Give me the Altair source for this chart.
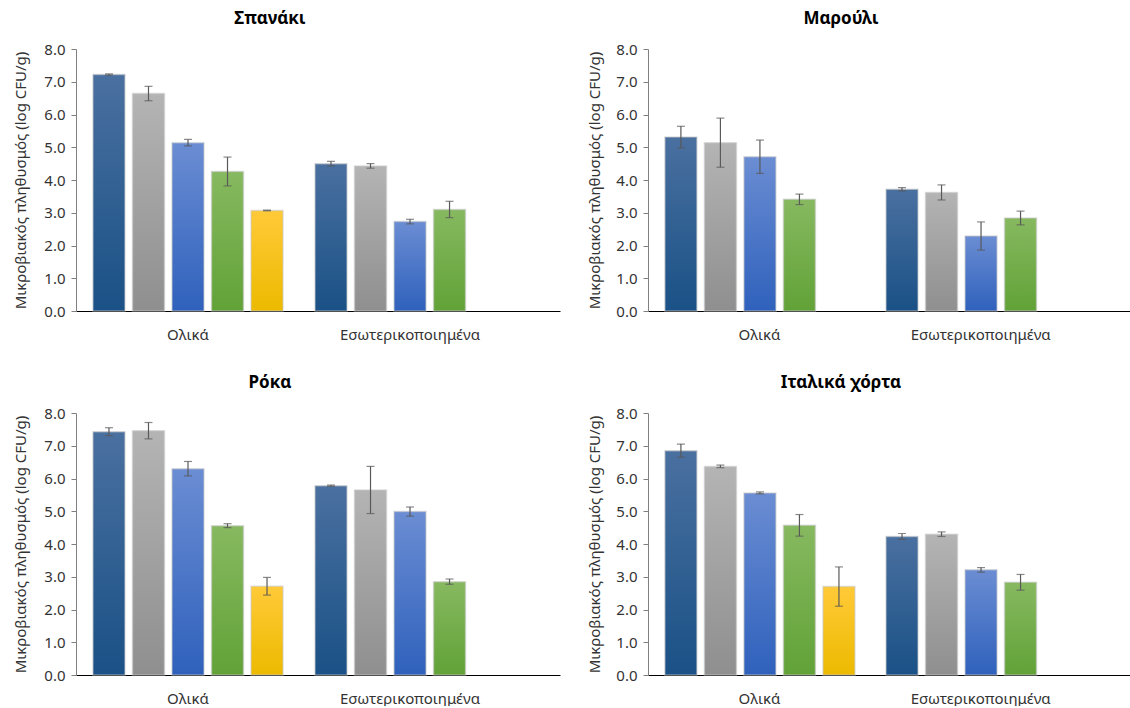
import altair as alt
import pandas as pd

# Categories
groups = ["Ολικά", "Εσωτερικοποιημένα"]
series = ["s1", "s2", "s3", "s4", "s5"]

# Panel titles
panels = ["Σπανάκι", "Μαρούλι", "Ρόκα", "Ιταλικά χόρτα"]

# Mean counts (log CFU/g) per panel: group "Ολικά" then "Εσωτερικοποιημένα"
spinach_mean = [7.22, 6.64, 5.14, 4.26, 3.07, 4.50, 4.43, 2.73, 3.10]
spinach_err = [0.02, 0.22, 0.10, 0.44, 0.01, 0.07, 0.07, 0.07, 0.25]

lettuce_mean = [5.31, 5.14, 4.71, 3.41, 3.72, 3.62, 2.29, 2.84]
lettuce_err = [0.33, 0.75, 0.51, 0.16, 0.05, 0.23, 0.43, 0.21]

rocket_mean = [7.43, 7.46, 6.30, 4.56, 2.71, 5.78, 5.65, 4.99, 2.85]
rocket_err = [0.12, 0.25, 0.22, 0.06, 0.27, 0.02, 0.72, 0.14, 0.08]

italian_mean = [6.85, 6.37, 5.56, 4.57, 2.70, 4.23, 4.30, 3.21, 2.83]
italian_err = [0.20, 0.04, 0.03, 0.33, 0.60, 0.09, 0.07, 0.07, 0.24]

# Which series are present in each group, per panel
slots_5_4 = [("Ολικά", s) for s in series] + [("Εσωτερικοποιημένα", s) for s in series[:4]]
slots_4_4 = [("Ολικά", s) for s in series[:4]] + [("Εσωτερικοποιημένα", s) for s in series[:4]]

panel_data = {
    "Σπανάκι": (slots_5_4, spinach_mean, spinach_err),
    "Μαρούλι": (slots_4_4, lettuce_mean, lettuce_err),
    "Ρόκα": (slots_5_4, rocket_mean, rocket_err),
    "Ιταλικά χόρτα": (slots_5_4, italian_mean, italian_err),
}

rows = []
for p, (slots, means, errs) in panel_data.items():
    for (g, s), m, e in zip(slots, means, errs):
        rows.append({"panel": p, "group": g, "series": s, "mean": m,
                     "lo": round(m - e, 3), "hi": round(m + e, 3)})
df = pd.DataFrame(rows)

# Vertical gradient per series (light top -> dark bottom)
gradients = {
    "s1": ("#4a70a0", "#1a5186"),
    "s2": ("#b4b4b4", "#8f8f8f"),
    "s3": ("#6b8dd3", "#2f61bc"),
    "s4": ("#87b960", "#61a237"),
    "s5": ("#ffca38", "#ecba00"),
}

FONT = "Noto Sans"
PLOT_H = 262

x_axis = alt.Axis(title=None, ticks=False, labelAngle=0, labelPadding=16,
                  labelFontSize=15, labelColor="#333333", labelFont=FONT,
                  domainColor="#000000", domainWidth=1.2)
x_scale = alt.Scale(domain=groups, paddingInner=0.144, paddingOuter=0.162, align=0.236)
y_scale = alt.Scale(domain=[0, 8], nice=False)


def y_axis(title_pad):
    return alt.Axis(title="Μικροβιακός πληθυσμός (log CFU/g)", values=list(range(9)),
                    format=".1f", grid=False, tickSize=5, tickColor="#808080",
                    domainColor="#808080", labelPadding=6, labelFontSize=15,
                    labelColor="#333333", labelFont=FONT, labelOverlap=False,
                    titleFont=FONT, titleFontSize=15, titleFontWeight="normal",
                    titleColor="#333333", titlePadding=title_pad)


def panel(name, width, title_pad):
    base = alt.Chart(df).transform_filter(alt.datum.panel == name)
    x = alt.X("group:N", sort=groups, scale=x_scale, axis=x_axis)
    xo = alt.XOffset("series:N", sort=series,
                     scale=alt.Scale(domain=series, paddingInner=0.19, paddingOuter=0))
    ax = y_axis(title_pad)

    def y(field):
        return alt.Y(f"{field}:Q", scale=y_scale, axis=ax)

    layers = []
    for s in series:
        top, bottom = gradients[s]
        grad = alt.Gradient(
            gradient="linear", x1=0, y1=0, x2=0, y2=1,
            stops=[alt.GradientStop(offset=0, color=top),
                   alt.GradientStop(offset=1, color=bottom)],
        )
        layers.append(
            base.transform_filter(alt.datum.series == s)
            .mark_bar(color=grad, stroke="#c8c8c8", strokeWidth=1.5, strokeOpacity=0.55)
            .encode(x=x, xOffset=xo, y=y("mean"))
        )
    err_color = "#595959"
    layers.append(base.mark_rule(color=err_color, strokeWidth=1.2)
                  .encode(x=x, xOffset=xo, y=y("lo"), y2="hi:Q"))
    layers.append(base.mark_tick(color=err_color, size=8, thickness=1.2)
                  .encode(x=x, xOffset=xo, y=y("lo")))
    layers.append(base.mark_tick(color=err_color, size=8, thickness=1.2)
                  .encode(x=x, xOffset=xo, y=y("hi")))
    return alt.layer(*layers).properties(
        width=width, height=PLOT_H,
        title=alt.TitleParams(name, fontSize=17, fontWeight="bold", font=FONT,
                              color="#000000", anchor="middle", dx=-48, offset=14),
    )


top_row = alt.hconcat(panel("Σπανάκι", 484, 15), panel("Μαρούλι", 482, 13), spacing=27)
bottom_row = alt.hconcat(panel("Ρόκα", 484, 15), panel("Ιταλικά χόρτα", 482, 13), spacing=27)

chart = alt.vconcat(top_row, bottom_row, spacing=32).properties(
    padding={"top": 10, "left": 13, "right": 0, "bottom": 0},
    background="white",
).configure_view(stroke=None)

chart.save("out.html", embed_options={"renderer": "svg", "actions": False})
